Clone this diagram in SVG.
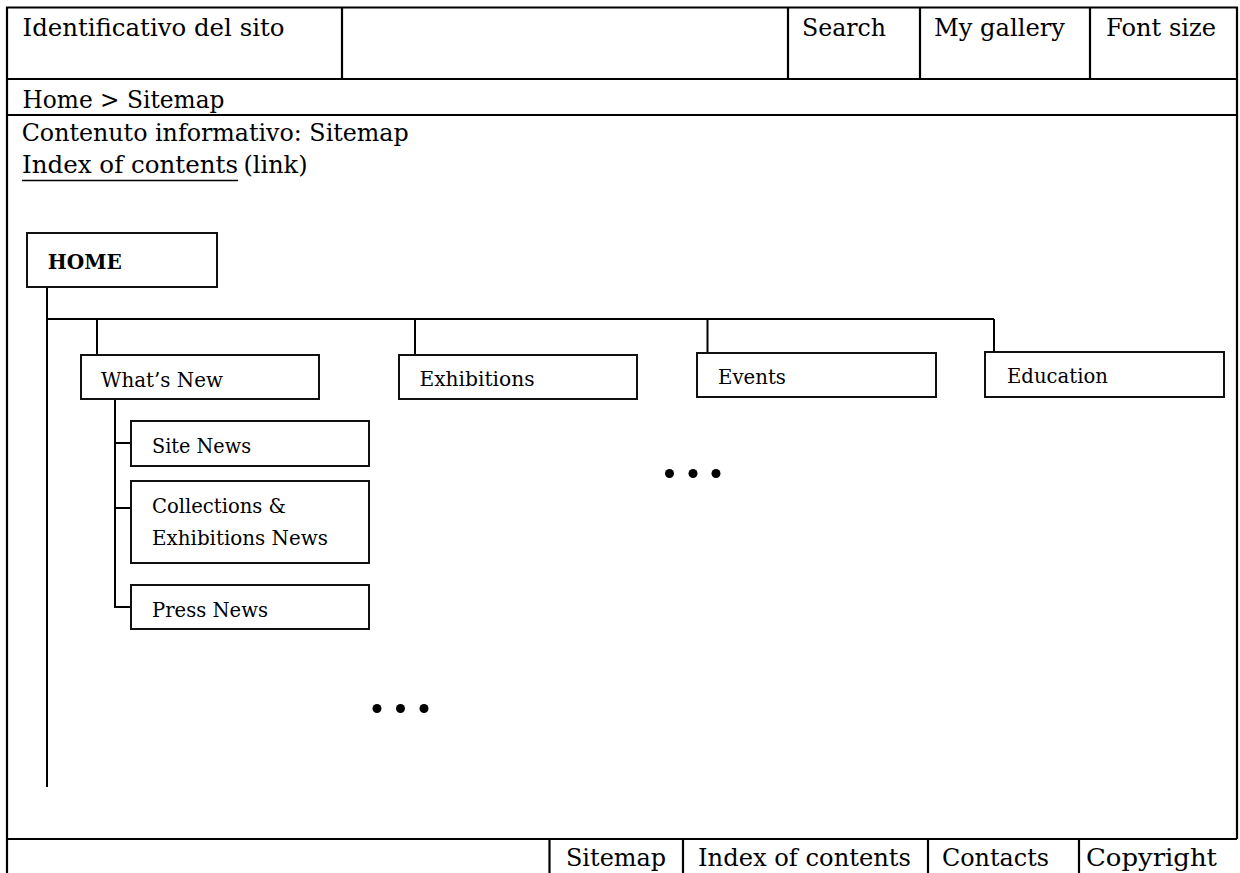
<svg xmlns="http://www.w3.org/2000/svg" width="1240" height="873" viewBox="0 0 1240 873">
<style>
  .frame { stroke: #000; stroke-width: 2.2; fill: none; }
  .box { stroke: #111; stroke-width: 2; fill: #fff; }
  .conn { stroke: #000; stroke-width: 2; fill: none; }
  .hdr { font-family: "DejaVu Serif", "Liberation Serif", serif; font-size: 24px; fill: #000; }
  .lbl { font-family: "DejaVu Serif", "Liberation Serif", serif; font-size: 19.5px; fill: #000; }
  .bold { font-family: "DejaVu Serif", "Liberation Serif", serif; font-size: 20px; font-weight: bold; fill: #000; }
</style>
<rect width="1240" height="873" fill="#fff"/>

<g id="frame">
  <path class="frame" d="M7,873 V7.5 H1237 V839 M7,79 H1237 M7,115 H1237 M7,839 H1237"/>
  <path class="frame" d="M342,7.5 V79 M788,7.5 V79 M920,7.5 V79 M1090,7.5 V79"/>
  <path class="frame" d="M549.5,839 V873 M683,839 V873 M928,839 V873 M1079,839 V873"/>
</g>

<g id="header">
  <text class="hdr" x="22.5" y="36" textLength="262" lengthAdjust="spacingAndGlyphs">Identificativo del sito</text>
  <text class="hdr" x="802" y="36" textLength="84" lengthAdjust="spacingAndGlyphs">Search</text>
  <text class="hdr" x="934" y="36" textLength="131" lengthAdjust="spacingAndGlyphs">My gallery</text>
  <text class="hdr" x="1106" y="36" textLength="110" lengthAdjust="spacingAndGlyphs">Font size</text>
  <text class="hdr" x="22.5" y="107.5" textLength="202" lengthAdjust="spacingAndGlyphs">Home &gt; Sitemap</text>
  <text class="hdr" x="21.7" y="140.5" textLength="387" lengthAdjust="spacingAndGlyphs">Contenuto informativo: Sitemap</text>
  <text class="hdr" x="22" y="172.5" textLength="216" lengthAdjust="spacingAndGlyphs">Index of contents</text>
  <line x1="22" y1="180.5" x2="238" y2="180.5" stroke="#000" stroke-width="1.6"/>
  <text class="hdr" x="243.5" y="172.5" textLength="64" lengthAdjust="spacingAndGlyphs">(link)</text>
</g>

<g id="footer">
  <text class="hdr" x="566" y="866" textLength="100" lengthAdjust="spacingAndGlyphs">Sitemap</text>
  <text class="hdr" x="698" y="866" textLength="213" lengthAdjust="spacingAndGlyphs">Index of contents</text>
  <text class="hdr" x="942" y="866" textLength="107" lengthAdjust="spacingAndGlyphs">Contacts</text>
  <text class="hdr" x="1086" y="866" textLength="131" lengthAdjust="spacingAndGlyphs">Copyright</text>
</g>

<g id="connectors">
  <path class="conn" d="M47,287 V787"/>
  <path class="conn" d="M47,319 H994"/>
  <path class="conn" d="M97,319 V355 M415,319 V355 M707.5,319 V353 M994,319 V352"/>
  <path class="conn" d="M115,399 V607 H131 M115,443 H131 M115,508 H131"/>
</g>

<g id="node-home">
  <rect class="box" x="27" y="233" width="190" height="54"/>
  <text class="bold" x="47.7" y="269" textLength="74" lengthAdjust="spacingAndGlyphs">HOME</text>
</g>
<g id="node-whats-new">
  <rect class="box" x="81" y="355" width="238" height="44"/>
  <text class="lbl" x="101" y="387" textLength="122" lengthAdjust="spacingAndGlyphs">What’s New</text>
</g>
<g id="node-exhibitions">
  <rect class="box" x="399" y="355" width="238" height="44"/>
  <text class="lbl" x="419.5" y="386" textLength="115" lengthAdjust="spacingAndGlyphs">Exhibitions</text>
</g>
<g id="node-events">
  <rect class="box" x="697" y="353" width="239" height="44"/>
  <text class="lbl" x="718" y="384" textLength="68" lengthAdjust="spacingAndGlyphs">Events</text>
</g>
<g id="node-education">
  <rect class="box" x="985" y="352" width="239" height="45"/>
  <text class="lbl" x="1007" y="383" textLength="101" lengthAdjust="spacingAndGlyphs">Education</text>
</g>
<g id="node-site-news">
  <rect class="box" x="131" y="421" width="238" height="45"/>
  <text class="lbl" x="152" y="453" textLength="99" lengthAdjust="spacingAndGlyphs">Site News</text>
</g>
<g id="node-collections">
  <rect class="box" x="131" y="481" width="238" height="82"/>
  <text class="lbl" x="152" y="513" textLength="134" lengthAdjust="spacingAndGlyphs">Collections &amp;</text>
  <text class="lbl" x="152" y="545" textLength="176" lengthAdjust="spacingAndGlyphs">Exhibitions News</text>
</g>
<g id="node-press-news">
  <rect class="box" x="131" y="585" width="238" height="44"/>
  <text class="lbl" x="152" y="617" textLength="116" lengthAdjust="spacingAndGlyphs">Press News</text>
</g>

<g id="ellipsis" fill="#000">
  <circle cx="669.5" cy="473.5" r="4.5"/>
  <circle cx="693" cy="473.5" r="4.5"/>
  <circle cx="716" cy="473.5" r="4.5"/>
  <circle cx="377" cy="708.5" r="4.5"/>
  <circle cx="400.5" cy="708.5" r="4.5"/>
  <circle cx="424" cy="708.5" r="4.5"/>
</g>
</svg>
